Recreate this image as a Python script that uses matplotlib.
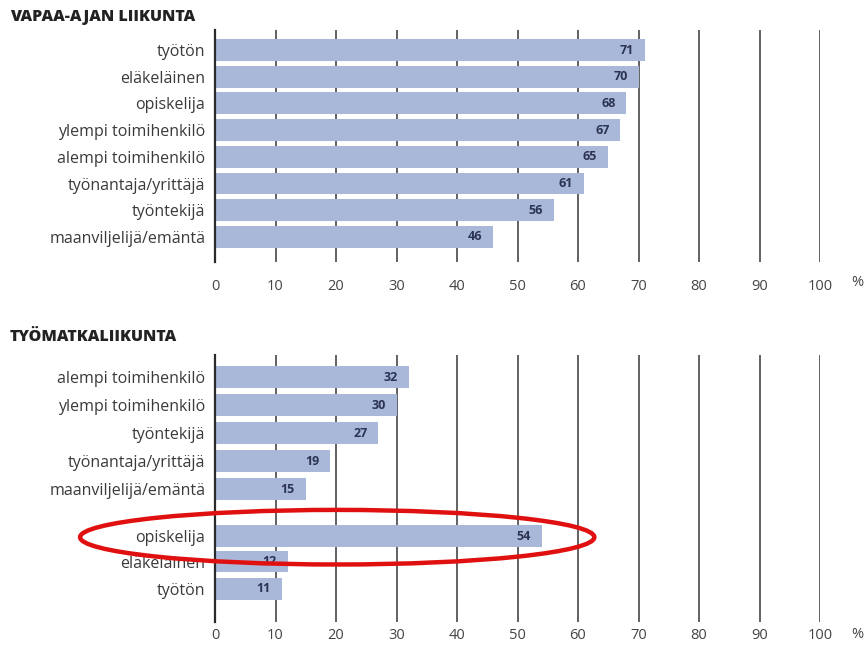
import matplotlib
matplotlib.use('Agg')
import matplotlib.pyplot as plt
from matplotlib.patches import Ellipse

# Vapaa-ajan liikunta (%)
leisure_labels = ['työtön', 'eläkeläinen', 'opiskelija', 'ylempi toimihenkilö',
                  'alempi toimihenkilö', 'työnantaja/yrittäjä', 'työntekijä',
                  'maanviljelijä/emäntä']
leisure_values = [71, 70, 68, 67, 65, 61, 56, 46]
leisure_pos = [0, 1, 2, 3, 4, 5, 6, 7]

# Työmatkaliikunta (%)
commute_labels = ['alempi toimihenkilö', 'ylempi toimihenkilö', 'työntekijä',
                  'työnantaja/yrittäjä', 'maanviljelijä/emäntä',
                  'opiskelija', 'eläkeläinen', 'työtön']
commute_values = [32, 30, 27, 19, 15, 54, 12, 11]
commute_pos = [0, 1, 2, 3, 4, 5.68, 6.6, 7.57]

x_ticks = [0, 10, 20, 30, 40, 50, 60, 70, 80, 90, 100]

BAR = '#a9b7d9'
GRID = '#555555'
TEXT = '#3a3a3a'

plt.rcParams['font.family'] = ['Open Sans', 'DejaVu Sans']

W, H = 866, 646
fig = plt.figure(figsize=(W / 100, H / 100), dpi=100)


def px_axes(x0, y0, x1, y1):
    # pikselikoordinaatit (ylhäältä) -> figure-koordinaatit
    return fig.add_axes([x0 / W, 1 - y1 / H, (x1 - x0) / W, (y1 - y0) / H])


def draw_panel(ax, title, title_y, labels, values, pos, ylim, height, pct_y):
    for x in x_ticks[1:]:
        ax.axvline(x, color=GRID, lw=1.3, zorder=1)
    ax.barh(pos, values, height=height, color=BAR, zorder=2)
    for p, v in zip(pos, values):
        ax.text(v - 1.8, p, str(v), ha='right', va='center', fontsize=9,
                fontweight='bold', color='#2b3450', zorder=3)
    ax.set_xlim(0, 100)
    ax.set_ylim(*ylim)
    ax.set_yticks(pos)
    ax.set_yticklabels(labels, fontsize=11.5, color=TEXT)
    ax.set_xticks(x_ticks)
    ax.set_xticklabels([str(t) for t in x_ticks], fontsize=10.5, color='#444444')
    ax.tick_params(axis='both', length=0)
    ax.tick_params(axis='y', pad=7)
    for s in ['top', 'right', 'bottom']:
        ax.spines[s].set_visible(False)
    ax.spines['left'].set_color('#2a2a2a')
    ax.spines['left'].set_linewidth(1.6)
    fig.text(10 / W, 1 - title_y / H, title, fontsize=11.5, fontweight='heavy',
             color='#222222', va='center', ha='left')
    fig.text(851 / W, 1 - pct_y / H, '%', fontsize=10.5, color='#444444',
             va='center', ha='left')


ax1 = px_axes(215, 30, 820, 262)
draw_panel(ax1, 'VAPAA-AJAN LIIKUNTA', 17, leisure_labels, leisure_values,
           leisure_pos, (7.94, -0.75), 0.82, 283)
ax1.tick_params(axis='x', pad=12)

ax2 = px_axes(215, 355, 820, 622)
draw_panel(ax2, 'TYÖMATKALIIKUNTA', 337, commute_labels, commute_values,
           commute_pos, (8.75, -0.79), 0.76, 634)
ax2.tick_params(axis='x', pad=4)

# punainen korostus opiskelijan ympärille
ring = Ellipse((20.2, 5.72), 85, 1.95, fill=False, edgecolor='#e01010',
               lw=3.2, clip_on=False, zorder=5)
ax2.add_patch(ring)

fig.savefig('out.png', dpi=100, facecolor='white')
